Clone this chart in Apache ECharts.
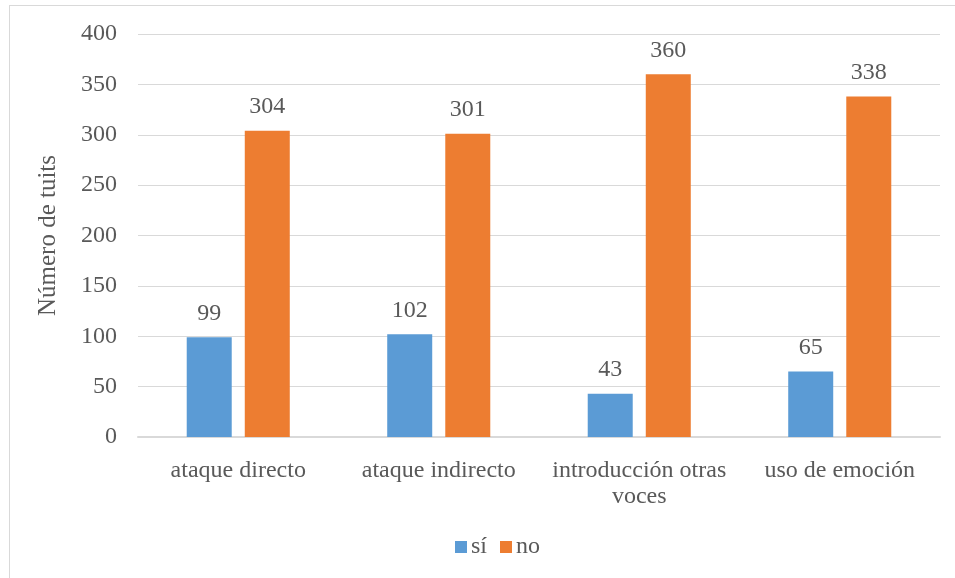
<!DOCTYPE html>
<html>
<head>
<meta charset="utf-8">
<script src="https://cdn.jsdelivr.net/npm/echarts@6/dist/echarts.min.js"></script>
<style>
  html, body { margin: 0; padding: 0; background: #fff; }
  #frame { position: absolute; left: 9px; top: 5px; width: 960px; height: 590px; border: 1px solid #d9d9d9; box-sizing: border-box; }
  #chart { position: absolute; left: 0; top: 0; width: 955px; height: 578px; }
</style>
</head>
<body>
<div id="frame"></div>
<div id="chart"></div>
<script>
// Categories and counts per answer
const categories = ['ataque directo', 'ataque indirecto', 'introducción otras\nvoces', 'uso de emoción'];
const siValues = [99, 102, 43, 65];
const noValues = [304, 301, 360, 338];
const yTicks = { min: 0, max: 400, interval: 50 };

const font = '"Liberation Serif", "Times New Roman", serif';
const textColor = '#595959';

const chart = echarts.init(document.getElementById('chart'));
chart.setOption({
  animation: false,
  textStyle: { fontFamily: font },
  grid: { left: 138, right: 15, top: 34, bottom: 141 },
  legend: {
    top: 530,
    left: 450,
    itemWidth: 12,
    itemHeight: 12,
    itemGap: 13,
    icon: 'rect',
    textStyle: { fontFamily: font, fontSize: 24, color: textColor, padding: [0, 0, 0, -1] },
    data: ['sí', 'no']
  },
  xAxis: {
    type: 'category',
    data: categories,
    axisLine: { lineStyle: { color: '#d9d9d9', width: 2 } },
    axisTick: { show: false },
    axisLabel: { interval: 0, fontFamily: font, fontSize: 24, color: textColor, margin: 21, lineHeight: 26 }
  },
  yAxis: {
    type: 'value',
    min: yTicks.min,
    max: yTicks.max,
    interval: yTicks.interval,
    name: 'Número de tuits',
    nameLocation: 'middle',
    nameGap: 77,
    nameTextStyle: { fontFamily: font, fontSize: 25, color: textColor },
    axisLine: { show: false },
    axisTick: { show: false },
    axisLabel: { fontFamily: font, fontSize: 24, color: textColor, margin: 21 },
    splitLine: { lineStyle: { color: '#d9d9d9', width: 1 } }
  },
  series: [
    {
      name: 'sí',
      type: 'bar',
      data: siValues,
      barWidth: 45,
      barGap: '29%',
      itemStyle: { color: '#5b9bd5' },
      label: { show: true, position: 'top', distance: 12, fontFamily: font, fontSize: 24, color: textColor }
    },
    {
      name: 'no',
      type: 'bar',
      data: noValues,
      barWidth: 45,
      barGap: '29%',
      itemStyle: { color: '#ed7d31' },
      label: { show: true, position: 'top', distance: 12, fontFamily: font, fontSize: 24, color: textColor }
    }
  ]
});
</script>
</body>
</html>
